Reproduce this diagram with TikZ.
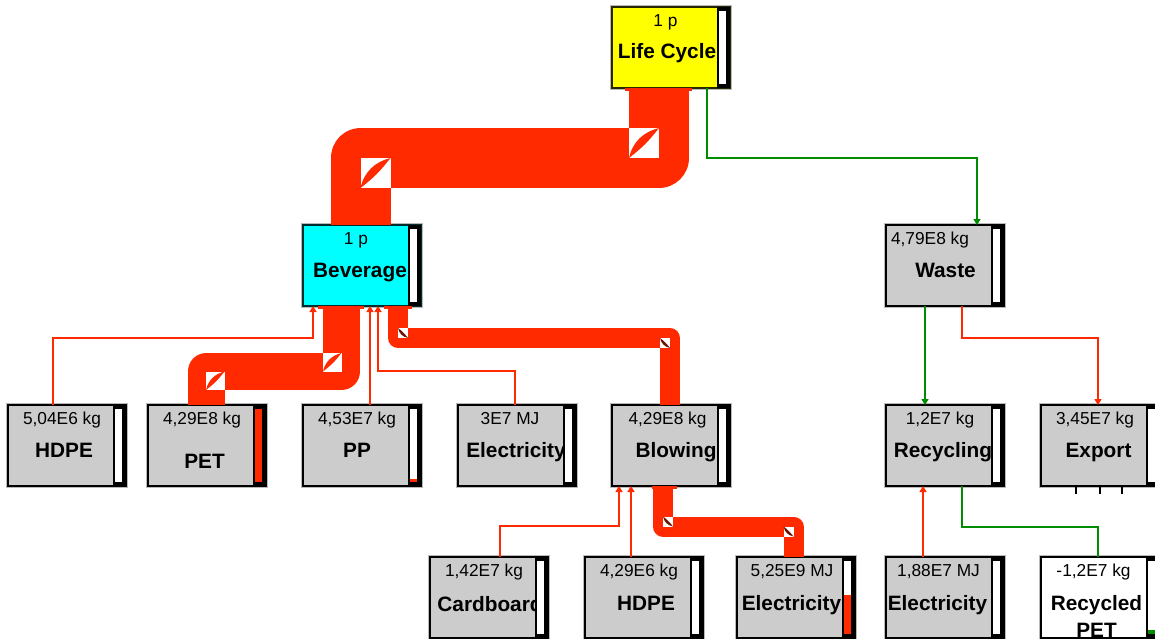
\documentclass[tikz,border=0pt]{standalone}
\usepackage{fontspec}
\setmainfont{Liberation Sans}
\usetikzlibrary{arrows.meta}

\definecolor{flowred}{RGB}{255,42,0}
\definecolor{flowgreen}{RGB}{0,140,0}
\definecolor{boxgray}{RGB}{204,204,204}
\definecolor{lcyellow}{RGB}{255,255,0}
\definecolor{lcborder}{RGB}{40,40,0}
\definecolor{bevcyan}{RGB}{0,255,255}
\definecolor{bevborder}{RGB}{0,45,45}
\definecolor{icondark}{RGB}{110,20,0}

\tikzset{
  proc/.style={draw=black, line width=2.2pt, minimum width=118pt, minimum height=81pt,
    inner sep=0pt, outer sep=0pt, anchor=north west},
  valtxt/.style={font=\fontsize{17.3}{20}\selectfont, anchor=base, inner sep=0pt},
  labtxt/.style={font=\fontsize{20.8}{24}\selectfont\bfseries, anchor=base, inner sep=0pt},
  band/.style={draw=flowred, line width=#1, line join=round},
  redline/.style={draw=flowred, line width=2pt},
  greenline/.style={draw=flowgreen, line width=2pt},
  flowtip/.style={-{Triangle[width=7pt,length=6pt]}},
}

% box with its amount on top
\newcommand{\procbox}[5][54]{%
  \draw[gray!55, line width=0.8pt] ([shift={(-1.6pt,1.6pt)}]#3) rectangle ++(121.2,84.2);
  \node[proc, fill=#4] (#2) at (#3) {};
  \node[valtxt] at ([xshift=#1pt, yshift=-19pt]#2.north west) {#5};
}
% level bar at the right side
\newcommand{\procbar}[1]{%
  \fill[black] ([xshift=-13pt]#1.north east) rectangle (#1.south east);
  \fill[white] ([shift={(-11pt,-4pt)}]#1.north east) rectangle ([shift={(-4pt,4pt)}]#1.south east);
}
\newcommand{\barlevel}[3]{%
  \fill[#3] ([shift={(-11pt,4pt)}]#1.south east) rectangle ([xshift=-4pt, yshift=#2pt]#1.south east);
}
% small flow symbol in a corner of a band
\newcommand{\flowicon}[4]{%
  \begin{scope}[shift={(#1,#2)}, x=#3pt, y=-#3pt]
    \fill[white] (0,0) rectangle (1,1);
    \ifnum#4=1
      \fill[flowred] (0,1) .. controls (0.12,0.45) and (0.5,0.12) .. (1,0)
        .. controls (0.6,0.5) and (0.5,0.6) .. cycle;
    \else
      \fill[icondark] (0,0) .. controls (0.12,0.55) and (0.45,0.88) .. (1,1)
        .. controls (0.6,0.5) and (0.4,0.3) .. cycle;
    \fi
  \end{scope}}

\begin{document}
\begin{tikzpicture}[x=1pt, y=-1pt]
  \useasboundingbox (0,0) rectangle (1155,638);

  \procbox[53.5]{lc}{612,7}{lcyellow, draw=lcborder}{1 p}
  \procbox[53]{bev}{303,225}{bevcyan, draw=bevborder}{1 p}
  \procbox[44]{waste}{886,225}{boxgray}{4,79E8 kg}
  \procbox{hdpe}{8,405}{boxgray}{5,04E6 kg}
  \procbox{pet}{148,405}{boxgray}{4,29E8 kg}
  \procbox{pp}{303,405}{boxgray}{4,53E7 kg}
  \procbox[52]{elec}{458,405}{boxgray}{3E7 MJ}
  \procbox[55.5]{blow}{612,405}{boxgray}{4,29E8 kg}
  \procbox{rec}{886,405}{boxgray}{1,2E7 kg}
  \procbox{export}{1041,405}{boxgray}{3,45E7 kg}
  \procbox{card}{430,557}{boxgray}{1,42E7 kg}
  \procbox{hdpeb}{585,557}{boxgray}{4,29E6 kg}
  \procbox[55]{elecb}{737,557}{boxgray}{5,25E9 MJ}
  \procbox[52.5]{elecc}{886,557}{boxgray}{1,88E7 MJ}
  \procbox[52.5]{rpet}{1041,557}{white}{-1,2E7 kg}

  \node[labtxt] (lcL) at ([xshift=55pt,yshift=-51pt]lc.north west) {Life Cycle};
  \node[labtxt] (bevL) at ([xshift=57pt,yshift=-52pt]bev.north west) {Beverage};
  \node[labtxt] (wasteL) at ([xshift=59.5pt,yshift=-52pt]waste.north west) {Waste};
  \node[labtxt] (hdpeL) at ([xshift=56pt,yshift=-52pt]hdpe.north west) {HDPE};
  \node[labtxt] (petL) at ([xshift=56.5pt,yshift=-63pt]pet.north west) {PET};
  \node[labtxt] (ppL) at ([xshift=54pt,yshift=-52pt]pp.north west) {PP};
  \node[labtxt] (elecL) at ([xshift=58pt,yshift=-52pt]elec.north west) {Electricity};
  \node[labtxt] (blowL) at ([xshift=64pt,yshift=-52pt]blow.north west) {Blowing};
  \node[labtxt] (recL) at ([xshift=57pt,yshift=-52pt]rec.north west) {Recycling};
  \node[labtxt] (exportL) at ([xshift=57.5pt,yshift=-52pt]export.north west) {Export};
  \node[labtxt] (cardL) at ([xshift=60pt,yshift=-54pt]card.north west) {Cardboard};
  \node[labtxt] (hdpebL) at ([xshift=61pt,yshift=-53pt]hdpeb.north west) {HDPE};
  \node[labtxt] (elecbL) at ([xshift=54.5pt,yshift=-53pt]elecb.north west) {Electricity};
  \node[labtxt] (eleccL) at ([xshift=51.5pt,yshift=-53pt]elecc.north west) {Electricity};
  \node[labtxt] (rpetL) at ([xshift=55.5pt,yshift=-53pt]rpet.north west) {Recycled};
  \node[labtxt] (rpetLb) at ([xshift=55.5pt,yshift=-80pt]rpet.north west) {PET};

  \foreach \n in {lc,bev,waste,hdpe,pet,pp,elec,blow,rec,export,card,hdpeb,elecb,elecc,rpet}
    \procbar{\n};
  \barlevel{pet}{77}{flowred}
  \barlevel{pp}{7}{flowred}
  \barlevel{elecb}{43}{flowred}
  \barlevel{rpet}{8}{flowgreen}

  % flows
  \draw[band=60pt] ([xshift=57.5pt]bev.north west) -- ++(0,-67) -| ([xshift=47pt]lc.south west);
  \draw[band=37pt] ([xshift=38.5pt]bev.south west) -- ++(0,65.5) -| ([xshift=58pt]pet.north west);
  \draw[band=20pt] ([xshift=95pt]bev.south west) -- ++(0,32) -| ([xshift=58pt]blow.north west);
  \draw[band=20pt] ([xshift=51pt]blow.south west) -- ++(0,40.5) -| ([xshift=56.5pt]elecb.north west);

  \draw[redline, flowtip] ([xshift=45pt]hdpe.north west) -- ++(0,-67) -| ([xshift=10pt]bev.south west);
  \draw[redline, flowtip] ([xshift=67pt]pp.north west) -- ([xshift=67pt]bev.south west);
  \draw[redline, flowtip] ([xshift=57pt]elec.north west) -- ++(0,-34) -| ([xshift=75pt]bev.south west);
  \draw[redline, flowtip] ([xshift=70pt]card.north west) -- ++(0,-31) -| ([xshift=7pt]blow.south west);
  \draw[redline, flowtip] ([xshift=46pt]hdpeb.north west) -- ([xshift=19pt]blow.south west);
  \draw[redline, flowtip] ([xshift=37pt]elecc.north west) -- ([xshift=37pt]rec.south west);
  \draw[redline, flowtip] ([xshift=76pt]waste.south west) -- ++(0,32) -| ([xshift=57pt]export.north west);
  \draw[greenline, flowtip] ([xshift=95pt]lc.south west) -- ++(0,70) -| ([xshift=91pt]waste.north west);
  \draw[greenline, flowtip] ([xshift=39pt]waste.south west) -- ([xshift=39pt]rec.north west);
  \draw[greenline] ([xshift=76pt]rec.south west) -- ++(0,41) -| ([xshift=57pt]rpet.north west);

  % ports
  \fill[flowred] ([xshift=13pt]lc.south west) rectangle ([xshift=80pt,yshift=-3pt]lc.south west);
  \fill[flowred] ([xshift=15pt]bev.south west) rectangle ([xshift=61pt,yshift=-3pt]bev.south west);
  \fill[flowred] ([xshift=81pt]bev.south west) rectangle ([xshift=109pt,yshift=-3pt]bev.south west);
  \fill[flowred] ([xshift=40pt]blow.south west) rectangle ([xshift=65pt,yshift=-3pt]blow.south west);
  \foreach \dx in {35,59,81}
    \draw[line width=1.6pt] ([xshift=\dx pt]export.south west) -- ++(0,8);

  \flowicon{360.5}{158}{30}{1}
  \flowicon{629}{128}{30}{1}
  \flowicon{323}{353}{18.5}{1}
  \flowicon{206}{371.5}{18.5}{1}
  \flowicon{398}{328}{10}{2}
  \flowicon{660}{338}{10}{2}
  \flowicon{663}{516.5}{10}{2}
  \flowicon{783.5}{526.5}{10}{2}
\end{tikzpicture}
\end{document}
